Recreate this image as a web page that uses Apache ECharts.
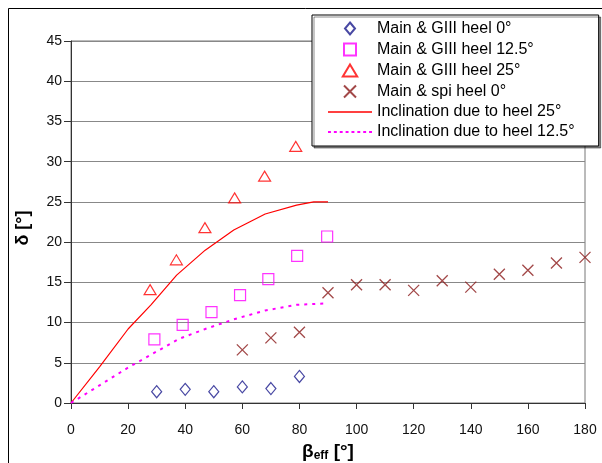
<!DOCTYPE html>
<html>
<head>
<meta charset="utf-8">
<script src="https://cdn.jsdelivr.net/npm/echarts@6/dist/echarts.min.js"></script>
<style>
  html, body { margin: 0; padding: 0; background: #fff; }
  #chart { width: 602px; height: 463px; }
</style>
</head>
<body>
<div id="chart"></div>
<script>
// measured points, beta_eff [deg] / delta [deg]
var gIII0X = [30, 40, 50, 60, 70, 80];
var gIII0Y = [1.4, 1.7, 1.4, 2.0, 1.8, 3.3];

var gIII125X = [29.2, 39.1, 49.2, 59.2, 69.1, 79.2, 89.7];
var gIII125Y = [7.9, 9.7, 11.3, 13.4, 15.4, 18.3, 20.7];

var gIII25X = [27.7, 36.9, 46.9, 57.3, 67.8, 78.7];
var gIII25Y = [14.1, 17.8, 21.8, 25.5, 28.2, 31.9];

var spi0X = [60, 70, 80, 90, 100, 110, 120, 130, 140, 150, 160, 170, 180];
var spi0Y = [6.6, 8.1, 8.8, 13.7, 14.7, 14.7, 14.0, 15.2, 14.4, 16.0, 16.5, 17.4, 18.1];

// inclination curves
var incl25X = [0, 10, 20, 28, 37, 47, 57, 68, 79, 85, 90];
var incl25Y = [0, 4.5, 9.2, 12.2, 15.9, 19.0, 21.5, 23.5, 24.6, 25.0, 25.0];

var incl125X = [0, 10, 20, 28, 38, 47, 57, 68, 79, 90];
var incl125Y = [0, 2.2, 4.4, 6.0, 8.0, 9.2, 10.4, 11.5, 12.2, 12.4];

var seriesNames = [
    'Main & GIII heel 0°',
    'Main & GIII heel 12.5°',
    'Main & GIII heel 25°',
    'Main & spi heel 0°',
    'Inclination due to heel 25°',
    'Inclination due to heel 12.5°'
];

function pairs(xs, ys) {
    var out = [];
    for (var i = 0; i < xs.length; i++) {
        out.push([xs[i], ys[i]]);
    }
    return out;
}

var fontName = '"Liberation Sans", Arial, sans-serif';

// marker shapes (outline only)
var diamondPath = 'path://M5,0 L10,6 L5,12 L0,6 Z';
var squarePath = 'path://M0,0 L10,0 L10,10 L0,10 Z';
var trianglePath = 'path://M6,0 L12,10 L0,10 Z';
var crossPath = 'path://M0,0 L10,10 M10,0 L0,10';

// legend line icons
var solidIcon = 'path://M0,0 L44,0 L44,1.3 L0,1.3 Z';
var dotIcon = 'path://';
for (var d = 0; d < 44; d += 6) {
    dotIcon += 'M' + d + ',0 L' + (d + 3) + ',0 L' + (d + 3) + ',2 L' + d + ',2 Z ';
}

function hollow(name, xs, ys, symbol, color, size) {
    return {
        name: name,
        type: 'scatter',
        data: pairs(xs, ys),
        symbol: symbol,
        symbolSize: size,
        symbolKeepAspect: true,
        itemStyle: { color: 'none', borderColor: color, borderWidth: 1.2 },
        z: 3
    };
}

var myChart = echarts.init(document.getElementById('chart'));

var option = {
    animation: false,
    backgroundColor: '#fff',
    textStyle: { fontFamily: fontName },
    graphic: [{
        type: 'rect',
        shape: { x: 8.5, y: 8.5, width: 620, height: 480 },
        style: { fill: 'none', stroke: '#000', lineWidth: 1 },
        silent: true
    }, {
        type: 'text',
        x: 23, y: 228,
        rotation: Math.PI / 2,
        style: {
            text: 'δ [°]',
            font: 'bold 18px ' + fontName,
            fill: '#000',
            align: 'center',
            verticalAlign: 'middle'
        }
    }],
    grid: {
        left: 71, right: 17, top: 41, bottom: 60,
        containLabel: false,
        outerBoundsMode: 'none',
        show: true,
        borderColor: '#777',
        borderWidth: 1
    },
    legend: {
        orient: 'vertical',
        left: 312, top: 15,
        data: [
            { name: seriesNames[0], icon: diamondPath },
            { name: seriesNames[1], icon: squarePath },
            { name: seriesNames[2], icon: trianglePath },
            { name: seriesNames[3], icon: crossPath },
            { name: seriesNames[4], icon: solidIcon },
            { name: seriesNames[5], icon: dotIcon }
        ],
        itemWidth: 44, itemHeight: 12, itemGap: 4,
        symbolKeepAspect: true,
        padding: [5, 24, 6, 16],
        backgroundColor: '#fff',
        borderColor: '#000',
        borderWidth: 1,
        shadowColor: 'rgba(0,0,0,0.45)',
        shadowOffsetX: 2, shadowOffsetY: 2,
        textStyle: { fontSize: 16, lineHeight: 16, color: '#000', fontFamily: fontName }
    },
    xAxis: {
        type: 'value',
        min: 0, max: 180, interval: 20,
        name: '{b|β}{s|eff}{b| [°]}',
        nameLocation: 'middle',
        nameGap: 37,
        nameTextStyle: {
            rich: {
                b: { fontSize: 19, fontWeight: 'bold', color: '#000', fontFamily: fontName },
                s: { fontSize: 12, fontWeight: 'bold', color: '#000', fontFamily: fontName, padding: [8, 0, 0, 0] }
            }
        },
        axisLine: { onZero: false, lineStyle: { color: '#333', width: 1 } },
        axisTick: { inside: false, length: 6, lineStyle: { color: '#333' } },
        axisLabel: { fontSize: 14, color: '#111', margin: 20 },
        splitLine: { show: false }
    },
    yAxis: {
        type: 'value',
        min: 0, max: 45, interval: 5,
        axisLine: { show: true, lineStyle: { color: '#333', width: 1 } },
        axisTick: { show: true, length: 7, lineStyle: { color: '#333' } },
        axisLabel: { fontSize: 14, color: '#111', margin: 9 },
        splitLine: { show: true, lineStyle: { color: '#888', width: 1 } }
    },
    series: [
        hollow(seriesNames[0], gIII0X, gIII0Y, diamondPath, '#1a1a8c', 12),
        hollow(seriesNames[1], gIII125X, gIII125Y, squarePath, '#ff00ff', 11),
        hollow(seriesNames[2], gIII25X, gIII25Y, trianglePath, '#ff0000', 12),
        {
            name: seriesNames[3],
            type: 'scatter',
            data: pairs(spi0X, spi0Y),
            symbol: crossPath,
            symbolSize: 11,
            symbolKeepAspect: true,
            itemStyle: { color: 'none', borderColor: '#8b1a1a', borderWidth: 1.3 },
            z: 3
        },
        {
            name: seriesNames[4],
            type: 'line',
            data: pairs(incl25X, incl25Y),
            showSymbol: false,
            symbol: 'none',
            lineStyle: { color: '#ff0000', width: 1.2 },
            itemStyle: { color: '#ff0000' },
            z: 2
        },
        {
            name: seriesNames[5],
            type: 'line',
            data: pairs(incl125X, incl125Y),
            showSymbol: false,
            symbol: 'none',
            lineStyle: { color: '#ff00ff', width: 2, type: [3, 5] },
            itemStyle: { color: '#ff00ff' },
            z: 2
        }
    ]
};

myChart.setOption(option);
</script>
</body>
</html>
